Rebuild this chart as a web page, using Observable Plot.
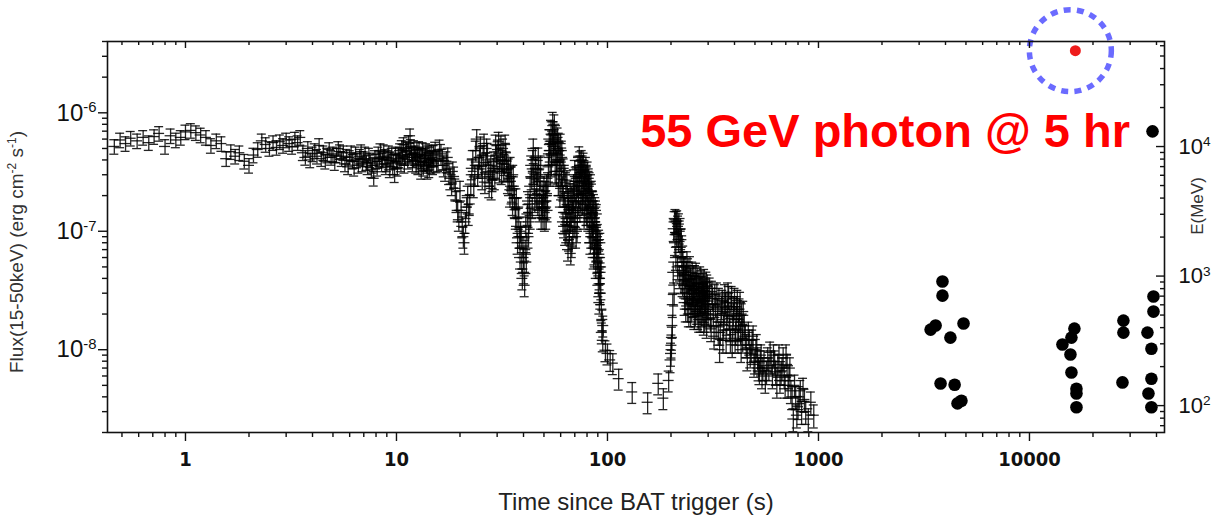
<!DOCTYPE html>
<html>
<head>
<meta charset="utf-8">
<script src="https://cdn.jsdelivr.net/npm/d3@7"></script>
<script src="https://cdn.jsdelivr.net/npm/@observablehq/plot@0.6"></script>
<style>
  html, body { margin: 0; padding: 0; background: #fff; }
  #chart svg { display: block; }
</style>
</head>
<body>
<div id="chart"></div>
<script>
// ---------------- DATA ----------------
// BAT light curve: [time (s), flux in units of 1e-7 erg cm^-2 s^-1]
const fluxUnit = 1e-7;
const segA = [[0.46,5.2],[0.49,5.9],[0.52,5.5],[0.55,6.1],[0.59,5.8],[0.63,6.2],[0.67,5.6],[0.71,6.3],[0.75,6.7],[0.8,5.2],[0.85,6.4],[0.9,5.9],[0.95,6.2],[1.0,6.9],[1.06,7.1],[1.12,6.8],[1.18,6.5],[1.25,6.2],[1.32,5.3],[1.4,5.8],[1.48,5.5],[1.56,4.1],[1.64,4.7],[1.72,4.3],[1.8,4.6],[1.9,3.9],[2.0,3.6],[2.1,4.4],[2.2,4.9],[2.3,5.8],[2.4,5.4],[2.5,5.0],[2.6,5.6],[2.7,5.1],[2.8,5.7],[2.9,5.3],[3.0,5.9],[3.1,5.5],[3.2,5.2],[3.3,6.0],[3.4,5.6],[3.5,6.2],[3.6,4.6],[3.7,4.2],[3.8,5.0],[3.9,4.0],[4.0,4.5],[4.1,4.8],[4.2,4.3],[4.3,5.3],[4.4,4.1],[4.5,4.6],[4.6,3.9],[4.7,4.4],[4.8,4.9],[4.9,4.2],[5.0,4.5],[5.1,3.8],[5.2,4.4],[5.3,5.0],[5.4,4.7],[5.5,4.1],[5.6,4.6],[5.7,3.7],[5.8,4.3],[5.9,3.5],[6.0,4.2],[6.2,3.9],[6.4,4.5],[6.6,3.6],[6.8,4.7],[7.0,4.1],[7.2,3.8],[7.4,4.4],[7.6,3.3],[7.8,2.8],[8.0,3.9],[8.2,4.5],[8.4,4.8],[8.6,4.0],[8.8,4.3],[9.0,3.7],[9.2,4.6],[9.4,4.1],[9.6,3.5],[9.8,3.0],[10.0,3.9],[10.2,4.4],[10.4,4.8],[10.6,5.1],[10.8,5.4],[11.0,4.2],[11.2,4.7],[11.4,5.6],[11.6,6.4],[11.8,4.5],[12.0,4.0],[12.2,4.6],[12.4,3.6],[12.6,4.3],[12.8,5.0],[13.0,3.9],[13.2,4.4],[13.4,3.4],[13.6,4.1],[13.8,4.8],[14.0,3.2],[14.2,3.8],[14.4,4.5],[14.6,3.6],[14.8,4.2]];
const segA2 = [[6.1,4.6],[6.3,3.4],[6.5,4.0],[6.7,4.3],[6.9,3.7],[7.1,4.5],[7.3,3.5],[7.5,4.0],[7.7,3.6],[7.9,4.2],[8.1,3.4],[8.3,4.1],[8.5,3.7],[8.7,4.7],[8.9,3.5],[9.1,4.2],[9.3,3.3],[9.5,4.4],[9.7,3.9],[9.9,4.5],[10.1,3.4],[10.3,4.0],[10.5,3.7],[10.7,4.3],[10.9,3.6],[11.1,5.0],[11.3,3.9],[11.5,4.4],[11.7,5.2],[11.9,3.7],[12.1,5.1],[12.3,4.2],[12.5,4.9],[12.7,3.5],[12.9,4.5],[13.1,3.2],[13.3,4.9],[13.5,3.8],[13.7,4.4],[13.9,3.6],[14.1,4.6],[14.3,3.3],[14.5,4.0],[14.7,4.7],[14.9,3.5]];
const segB = [[15,4.4],[15.5,3.9],[16,4.9],[16.5,4.1],[17,3.3],[17.5,4.2],[18,2.8],[18.5,3.2],[19,2.3],[19.5,1.5],[20,2.2],[20.5,1.1],[21,0.8],[21.5,1.6],[22,1.4],[22.5,2.5],[23,4.0],[23.5,3.0],[24,6.0],[24.5,3.5],[25,5.2],[25.5,2.8],[26,5.5],[26.5,3.8],[27,4.6],[27.5,2.4],[28,3.6],[28.5,2.7],[29,3.9],[29.5,5.4],[30,3.4],[30.5,5.7],[31,4.2],[31.5,3.1],[32,5.0],[32.5,3.7],[33,4.6],[33.5,3.3],[34,3.4],[34.5,2.0],[35,2.9],[35.5,1.7],[36,2.4],[36.5,1.6],[37,1.9],[37.5,0.8],[38,1.3],[38.5,0.6],[39,0.9],[39.5,0.4],[40,0.6],[40.5,0.35],[41,1.1],[41.5,0.8],[42,1.8],[42.5,1.2],[43,2.4],[43.5,3.6],[44,1.6],[44.5,5.0],[45,2.5],[45.5,4.2],[46,1.9],[46.5,3.0],[47,4.2],[47.5,1.5],[48,2.8],[48.5,1.3],[49,2.0],[49.5,1.3],[50,2.4],[50.5,1.25],[51,1.8],[51.5,2.5],[52,1.5],[52.5,3.5],[53,6.0],[53.5,3.0],[54,7.2],[54.5,4.5],[55,8.4],[55.5,5.5],[56,8.0],[56.5,3.2],[57,6.5],[57.5,4.0],[58,6.2],[58.5,2.5],[59,4.8],[59.5,2.0],[60,5.5],[60.5,3.0],[61,4.2],[61.5,1.2],[62,3.4],[62.5,1.8],[63,0.95],[63.5,2.6],[64,1.4],[64.5,2.0],[65,0.7],[65.5,1.6],[66,1.0],[66.5,2.1],[67,0.65],[67.5,1.3],[68,1.9],[68.5,0.9],[69,2.5],[69.5,1.1],[70,3.3],[70.5,1.6],[71,0.9],[71.5,2.8],[72,1.3],[72.5,3.5],[73,2.0],[73.5,4.3],[74,1.5],[74.5,3.6],[75,2.6],[75.5,4.0],[76,1.7],[76.5,3.0],[77,3.8],[77.5,1.3],[78,2.7],[78.5,1.9],[79,3.5],[79.5,1.4],[80,2.3],[80.5,3.2],[81,1.6],[81.5,2.8],[82,1.0],[82.5,2.0],[83,0.8],[83.5,2.5],[84,1.3],[84.5,1.8],[85,0.9],[85.5,1.8],[86,0.6],[86.5,1.2],[87,0.75],[87.5,1.6],[88,0.5],[88.5,1.0],[89,1.4],[89.5,0.55],[90,0.95],[90.5,0.35],[91,0.7],[91.5,0.25],[92,0.5],[92.5,0.8],[93,0.3],[93.5,0.22],[94,0.14],[94.5,0.18],[95,0.12],[95.5,0.16]];
const segB2 = [[15.25,4.7],[15.75,4.0],[16.25,4.5],[16.75,3.6],[17.25,3.9],[17.75,3.1],[18.25,2.5],[18.75,2.9],[19.25,1.8],[19.75,1.25],[20.25,1.5],[20.75,0.9],[21.25,1.2],[21.75,2.0],[22.25,1.7],[22.75,3.4],[23.25,2.4],[23.75,4.8],[24.25,3.0],[24.75,4.2],[25.25,3.6],[25.75,4.4],[26.25,2.6],[26.75,5.0],[27.25,3.2],[27.75,3.0],[28.25,2.3],[28.75,3.4],[29.25,2.8],[29.75,4.4],[30.25,4.9],[30.75,3.2],[31.25,5.3],[31.75,4.0],[32.25,3.3],[32.75,5.4],[33.25,3.9],[33.75,2.6],[34.25,2.8],[34.75,3.5],[35.25,2.2],[35.75,3.0],[36.25,1.9],[36.75,1.3],[37.25,1.1],[37.75,1.6],[38.25,0.9],[38.75,1.0],[39.25,0.55],[39.75,0.75],[40.25,0.45],[40.75,0.7],[41.25,0.55],[41.75,1.4],[42.25,0.9],[42.75,1.7],[43.25,1.3],[43.75,2.8],[44.25,4.0],[44.75,3.1],[45.25,1.8],[45.75,3.4],[46.25,2.6],[46.75,1.7],[47.25,3.3],[47.75,2.2],[48.25,3.6],[48.75,1.7],[49.25,1.6],[49.75,2.0],[50.25,1.6],[50.75,2.2],[51.25,1.3],[51.75,2.0],[52.25,2.6],[52.75,4.5],[53.25,4.8],[53.75,5.5],[54.25,3.6],[54.75,6.5],[55.25,7.0],[55.75,4.6],[56.25,6.0],[56.75,4.8],[57.25,3.0],[57.75,5.0],[58.25,3.8],[58.75,5.6],[59.25,3.2],[59.75,4.0],[60.25,2.3],[60.75,4.8],[61.25,2.4],[61.75,2.0],[62.25,1.1],[62.75,3.0],[63.25,1.6],[63.75,1.0],[64.25,2.7],[64.75,1.2],[65.25,1.9],[65.75,0.85],[66.25,1.4],[66.75,1.2],[67.25,2.0],[67.75,0.75],[68.25,1.5],[68.75,1.8],[69.25,1.5],[69.75,2.2],[70.25,1.2],[70.75,2.9],[71.25,2.0],[71.75,1.0],[72.25,2.4],[72.75,1.7],[73.25,3.0],[73.75,2.6],[74.25,3.9],[74.75,1.8],[75.25,3.3],[75.75,2.2],[76.25,3.6],[76.75,2.1],[77.25,2.4],[77.75,3.3],[78.25,1.5],[78.75,2.9],[79.25,2.1],[79.75,3.0],[80.25,1.4],[80.75,2.0],[81.25,2.5],[81.75,1.5],[82.25,2.6],[82.75,1.3],[83.25,1.6],[83.75,0.9],[84.25,2.2],[84.75,1.1],[85.25,1.4],[85.75,1.0],[86.25,1.7],[86.75,0.65],[87.25,1.3],[87.75,0.9],[88.25,1.5],[88.75,0.7],[89.25,0.9],[89.75,0.8],[90.25,0.6],[90.75,0.45],[91.25,0.85],[91.75,0.4],[92.25,0.3],[92.75,0.45],[93.25,0.5]];
const segC = [[97.8,0.099],[100,0.093],[103,0.082],[106,0.077],[113,0.057],[131,0.044],[155,0.036],[174,0.052],[184,0.039],[195,0.055]];
const segD = [[199,0.082],[200,0.093],[201,0.109],[202,0.127],[203,0.16],[204,0.24],[205,0.45],[206,1.05],[207,0.3],[208,1.2],[209,0.8],[210,1.25],[211,0.6],[212,1.2],[213,0.95],[214,1.22],[215,0.5],[216,1.1],[217,0.85],[218,1.15],[219,0.42],[220,1.0],[221,0.7],[222,1.05],[223,0.38],[224,0.85],[225,0.6],[226,0.75],[227,0.36],[228,0.55],[229,0.45],[230,0.5],[232,0.25],[234,0.42],[236,0.3],[238,0.55],[240,0.22],[242,0.38],[244,0.28],[246,0.5],[248,0.2],[250,0.35],[252,0.45],[254,0.24],[256,0.32],[258,0.19],[260,0.42],[262,0.27],[264,0.36],[266,0.21],[268,0.4],[270,0.3],[272,0.18],[274,0.34],[276,0.25],[278,0.38],[280,0.2],[282,0.3],[284,0.36],[286,0.17],[288,0.27],[290,0.33],[292,0.21],[294,0.37],[296,0.24],[298,0.3],[300,0.2],[305,0.33],[310,0.15],[315,0.27],[320,0.13],[325,0.24],[330,0.3],[335,0.14],[340,0.1],[345,0.2],[350,0.26],[355,0.16],[360,0.29],[365,0.12],[370,0.22],[375,0.28],[380,0.15],[385,0.25],[390,0.11],[395,0.2],[400,0.27],[405,0.14],[410,0.23],[415,0.12],[420,0.18],[425,0.25],[430,0.1],[435,0.16],[440,0.21],[445,0.16],[455,0.11],[465,0.14],[475,0.09],[485,0.12],[495,0.075],[505,0.1],[515,0.085],[525,0.065],[535,0.09],[545,0.07],[560,0.055],[575,0.085],[590,0.095],[605,0.06],[620,0.08],[635,0.05],[650,0.09],[665,0.065],[680,0.085],[695,0.05],[710,0.075],[725,0.06],[740,0.045],[760,0.026],[780,0.04],[800,0.033],[820,0.045],[845,0.047],[870,0.03],[895,0.026],[920,0.036],[950,0.028]];
const segD2 = [[231,0.35],[233,0.5],[235,0.22],[237,0.45],[239,0.32],[241,0.48],[243,0.2],[245,0.33],[247,0.4],[249,0.28],[251,0.22],[253,0.3],[255,0.42],[257,0.26],[259,0.34],[261,0.2],[263,0.44],[265,0.3],[267,0.25],[269,0.19],[271,0.36],[273,0.26],[275,0.41],[277,0.18],[279,0.28],[281,0.34],[283,0.22],[285,0.29],[287,0.39],[289,0.18],[291,0.26],[293,0.31],[295,0.16],[297,0.35],[299,0.23],[302.5,0.28],[307.5,0.18],[312.5,0.31],[317.5,0.2],[322.5,0.29],[327.5,0.16],[332.5,0.22],[337.5,0.27],[342.5,0.14],[347.5,0.23],[352.5,0.12],[357.5,0.21],[362.5,0.25],[367.5,0.17],[372.5,0.3],[377.5,0.19],[382.5,0.12],[387.5,0.28],[392.5,0.16],[397.5,0.23],[402.5,0.12],[407.5,0.19],[412.5,0.26],[417.5,0.15],[422.5,0.22],[427.5,0.14],[432.5,0.2],[437.5,0.12],[450,0.13],[460,0.085],[470,0.12],[480,0.1],[490,0.13],[500,0.08],[510,0.11],[520,0.07],[530,0.08],[540,0.06],[552,0.08],[567,0.065],[582,0.07],[597,0.08],[612,0.09],[627,0.065],[642,0.075],[657,0.055],[672,0.07],[688,0.06],[702,0.09],[718,0.05],[732,0.07],[750,0.04],[770,0.05],[790,0.028],[810,0.04],[832,0.03],[858,0.038]];
// segment groups with their fractional flux errors
const lcSegments = [[segA, segA2], [segB, segB2], [segC], [segD, segD2]];
const segErr = [0.14, 0.2, 0.2, 0.22];

// Fermi-LAT photons: arrival time (s) and energy (MeV)
const latTime   = [3870,3870,3400,3590,4870,4220,3790,4420,4560,4760, 16330,15810,14330,15640,15810,16700,16700,16700, 27880,27880,27590, 38700,38700,36240,37840,37840,36640,37840, 38300];
const latEnergy = [907,706,386,415,430,335,148,145,104,109, 393,335,296,248,180,135,124,97, 453,366,151, 695,532,366,275,161,124,97, 13100];
const highlightTime = [16500];
const highlightEnergy = [55000];

// Axes
const xMajorTicks = [1, 10, 100, 1000, 10000];
const xTickLabels = ["1", "10", "100", "1000", "10000"];
const yMajorTicks = [1e-8, 1e-7, 1e-6];
const yTickLabels = ["10^-8", "10^-7", "10^-6"];
const eMajorTicks = [100, 1000, 10000];
const eTickLabels = ["10^2", "10^3", "10^4"];
const xTitle = "Time since BAT trigger (s)";
const eTitle = "E(MeV)";
const annotation = "55 GeV photon @ 5 hr";

// ---------------- LAYOUT ----------------
const W = 1217, H = 519;
const M = {top: 41, right: 53, bottom: 87, left: 107};
const xDomain = [0.427, 43650];
const yDomain = [2e-9, 4e-6];
const eDomain = [62, 64700];
const frameW = W - M.left - M.right;
const frameH = H - M.top - M.bottom;
const pxPerDecX = frameW / Math.log10(xDomain[1] / xDomain[0]);
const kCap = Math.pow(10, 4.5 / pxPerDecX);
const kBar = Math.pow(10, 5.5 / pxPerDecX);

const L = Math.log10;
function eToFlux(e) {
  const f = (L(e) - L(eDomain[0])) / (L(eDomain[1]) - L(eDomain[0]));
  return Math.pow(10, L(yDomain[0]) + f * (L(yDomain[1]) - L(yDomain[0])));
}

const lc = lcSegments.flatMap((group, i) =>
  group.flat().map(([t, f]) => {
    const F = f * fluxUnit;
    return {t, F, lo: F * (1 - segErr[i]), hi: F * (1 + segErr[i])};
  })
);
const lat = latTime.map((t, i) => ({t, e: latEnergy[i]}));
const hl = highlightTime.map((t, i) => ({t, e: highlightEnergy[i]}));

function minorTicks(domain) {
  const out = [];
  for (let p = Math.floor(L(domain[0])); p <= Math.ceil(L(domain[1])); p++) {
    for (let m = 2; m <= 9; m++) {
      const v = m * Math.pow(10, p);
      if (v >= domain[0] && v <= domain[1]) out.push(v);
    }
  }
  return out;
}
const xMinor = minorTicks(xDomain);
const yMinor = minorTicks(yDomain);
const eMinorF = minorTicks(eDomain).map(eToFlux);
const eMajorF = eMajorTicks.map(eToFlux);

const lcStyle = {stroke: "#000", strokeWidth: 1.3, strokeOpacity: 0.85};
const tickStyle = {stroke: "#111", strokeWidth: 1.4};

const svg = Plot.plot({
  width: W, height: H,
  marginTop: M.top, marginRight: M.right, marginBottom: M.bottom, marginLeft: M.left,
  style: {fontFamily: "'Liberation Sans', Arial, sans-serif", background: "#fff", color: "#111", overflow: "visible"},
  x: {type: "log", domain: xDomain, label: null},
  y: {type: "log", domain: yDomain, label: null},
  marks: [
    Plot.ruleX(lc, {x: "t", y1: "lo", y2: "hi", ...lcStyle}),
    Plot.ruleY(lc, {y: "lo", x1: d => d.t / kCap, x2: d => d.t * kCap, ...lcStyle}),
    Plot.ruleY(lc, {y: "hi", x1: d => d.t / kCap, x2: d => d.t * kCap, ...lcStyle}),
    Plot.ruleY(lc, {y: "F", x1: d => d.t / kBar, x2: d => d.t * kBar, ...lcStyle}),
    Plot.dot(lat, {x: "t", y: d => eToFlux(d.e), r: 6.3, fill: "#000"}),
    Plot.dot(hl, {x: "t", y: d => eToFlux(d.e), r: 5.5, fill: "#ee1c1c"}),
    Plot.dot(hl, {x: "t", y: d => eToFlux(d.e), r: 41, dx: -5, fill: "none", stroke: "#6b6bff", strokeWidth: 5.5, strokeDasharray: "7,6.3"}),
    Plot.frame({stroke: "#111", strokeWidth: 1.6}),
    Plot.axisX(xMajorTicks, {anchor: "bottom", tickSize: 9, tickPadding: 10, ...tickStyle,
      text: d => xTickLabels[xMajorTicks.indexOf(d)],
      fontSize: 20, fontWeight: "bold", fontFamily: "'Liberation Sans Narrow', 'DejaVu Sans Condensed', 'Liberation Sans', sans-serif"}),
    Plot.axisX(xMinor, {anchor: "bottom", tickSize: 5, ...tickStyle, text: () => ""}),
    Plot.tickX(xMajorTicks, {x: d => d, insetBottom: frameH - 7, ...tickStyle}),
    Plot.tickX(xMinor, {x: d => d, insetBottom: frameH - 4, ...tickStyle}),
    Plot.axisY(yMajorTicks, {anchor: "left", tickSize: 9, tickPadding: 2, ...tickStyle,
      text: d => yTickLabels[yMajorTicks.indexOf(d)], fontSize: 24}),
    Plot.axisY(yMinor, {anchor: "left", tickSize: 5, ...tickStyle, text: () => ""}),
    Plot.tickY(eMajorF, {y: d => d, insetLeft: frameW - 8, ...tickStyle}),
    Plot.tickY(eMinorF, {y: d => d, insetLeft: frameW - 4, ...tickStyle}),
    Plot.axisY(eMajorF, {anchor: "right", tickSize: 0, tickPadding: 14,
      text: d => eTickLabels[eMajorF.indexOf(d)], fontSize: 22})
  ]
});
document.getElementById("chart").append(svg);

const sel = d3.select(svg);
sel.selectAll("text").each(function () {
  const m = /^10\^(-?\d+)$/.exec(this.textContent);
  if (!m) return;
  const t = d3.select(this);
  t.text(null);
  t.append("tspan").text("10");
  t.append("tspan").attr("dy", "-0.55em").attr("font-size", "0.62em").text(m[1]);
});

const yt = sel.append("text")
  .attr("transform", "translate(23,252) rotate(-90)")
  .attr("text-anchor", "middle").attr("font-size", 19).attr("fill", "#333");
yt.append("tspan").text("Flux(15-50keV) (erg cm");
yt.append("tspan").attr("dy", -7).attr("font-size", 12).text("-2");
yt.append("tspan").attr("dy", 7).text(" s");
yt.append("tspan").attr("dy", -7).attr("font-size", 12).text("-1");
yt.append("tspan").attr("dy", 7).text(")");

sel.append("text").attr("x", 636).attr("y", 510)
  .attr("text-anchor", "middle").attr("font-size", 24).attr("fill", "#222").text(xTitle);

sel.append("text").attr("transform", "translate(1203,206) rotate(-90)")
  .attr("text-anchor", "middle").attr("font-size", 17).attr("fill", "#333").text(eTitle);

sel.append("text").attr("x", 1130).attr("y", 147)
  .attr("text-anchor", "end").attr("font-size", 47).attr("font-weight", "bold")
  .attr("fill", "#ff0000").text(annotation);
</script>
</body>
</html>
